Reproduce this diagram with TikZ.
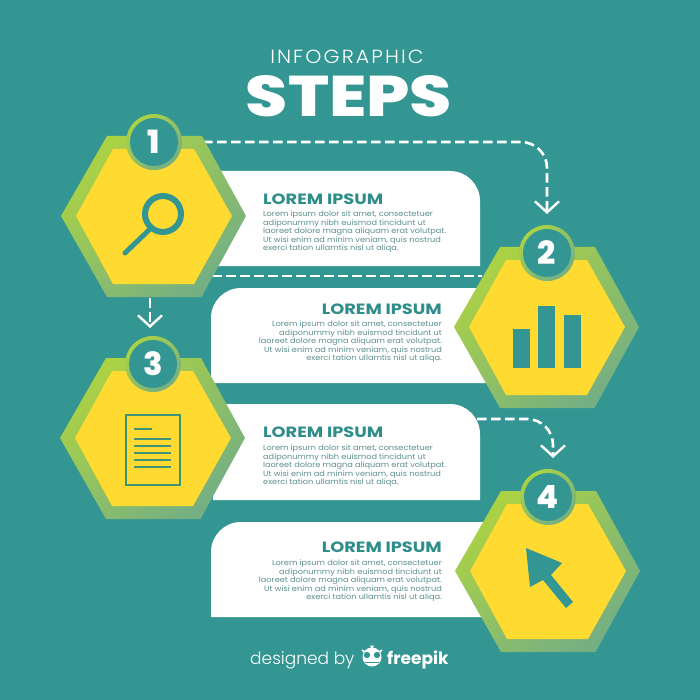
\documentclass[tikz,border=0pt]{standalone}
\usepackage{fontspec}
\setmainfont{Poppins}
\newfontfamily\bodyfont[FakeStretch=1.09]{Poppins}
\newfontfamily\heavyfont{Poppins ExtraBold}
\newfontfamily\titlefont[LetterSpace=11,FakeStretch=1.08]{Poppins Light}
\newfontfamily\lightfont{Poppins Light}
\usetikzlibrary{arrows.meta,shapes.geometric}
\definecolor{bgteal}{HTML}{349693}
\definecolor{headteal}{HTML}{2F8D8A}
\definecolor{bodygrey}{HTML}{5C8F8E}
\definecolor{hexyellow}{HTML}{FFDA30}
\definecolor{greenA}{HTML}{ACD244}
\definecolor{greenB}{HTML}{74AF84}
\definecolor{docgreen}{HTML}{3F9478}
\tikzset{
  card/.style={fill=white,draw=none},
  flow/.style={draw=white,line width=2.6pt,dash pattern=on 9.5pt off 4.5pt,rounded corners=26pt},
  flowtip/.style={-{Straight Barb[length=11pt,width=24pt,line width=2.4pt]}},
  hexrim/.style={top color=greenA,bottom color=greenB,middle color=greenB!50!greenA,shading angle=40},
  numdisc/.style={circle,fill=bgteal,minimum size=48pt,inner sep=0pt,text=white,font=\heavyfont\fontsize{32}{32}\selectfont},
  ringdisc/.style={top color=greenA,bottom color=greenB,shading angle=40},
  head/.style={text=headteal,inner sep=0pt},
  bodyl/.style={text=bodygrey,font=\bodyfont\fontsize{7.5}{8.5}\selectfont,inner sep=0pt,align=left},
  bodyr/.style={text=bodygrey,font=\bodyfont\fontsize{7.5}{8.5}\selectfont,inner sep=0pt,align=right},
  icon/.style={draw=bgteal,line width=6pt},
}
\newcommand{\hexat}[3]{%
  \coordinate (#1) at (#2,#3);
  \begin{scope}[shift={(#2,#3)}]
    \path[hexrim] (-92.5,0) -- (-46.5,-80) -- (48.5,-80) -- (92.5,0) -- (48,81) -- (-46.5,81) -- cycle;
    \fill[hexyellow] (-77.5,0) -- (-40.5,-67) -- (40.5,-67) -- (78.5,0) -- (40.5,68) -- (-40.5,68) -- cycle;
  \end{scope}}
\newcommand{\numat}[4]{%
  \path[ringdisc] (#2,#3) circle[radius=28pt];
  \node[numdisc] (#1) at (#2,#3) {#4};}
\newcommand{\loremtxt}{Lorem ipsum dolor sit amet, consectetuer\\adiponummy nibh euismod tincidunt ut\\laoreet dolore magna aliquam erat volutpat.\\Ut wisi enim ad minim veniam, quis nostrud\\exerci tation ullamtis nisl ut aliqa.}
\newcommand{\headtxt}{\resizebox{120pt}{10.6pt}{\bfseries LOREM IPSUM}}
\begin{document}
\begin{tikzpicture}[x=1pt,y=-1pt]
\useasboundingbox (0,0) rectangle (700,700);
\fill[bgteal] (0,0) rectangle (700,700);

% cards
\fill[card] (200,171) -- (450,171) arc[start angle=-90,end angle=0,radius=30] -- (480,266) -- (200,266) -- cycle;
\fill[card] (520,288) -- (241,288) arc[start angle=-90,end angle=-180,radius=30] -- (211,383) -- (520,383) -- cycle;
\fill[card] (213,404) -- (450,404) arc[start angle=-90,end angle=0,radius=30] -- (480,500) -- (213,500) -- cycle;
\fill[card] (520,522) -- (241,522) arc[start angle=-90,end angle=-180,radius=30] -- (211,617) -- (520,617) -- cycle;

% connector anchors
\coordinate (s12) at (203,142);
\coordinate (k12) at (547,142);
\coordinate (t2) at (547,214);
\coordinate (sm) at (212,276);
\coordinate (em) at (482,276);
\coordinate (s13) at (150,298);
\coordinate (t3) at (150,328);
\coordinate (s34) at (477,419);
\coordinate (k34) at (553,419);
\coordinate (t4) at (553,458);

% connectors
\draw[flow,flowtip] (s12) -- (k12) -- (t2);
\draw[flow] (sm) -- (em);
\draw[flow,flowtip] (s13) -- (t3);
\draw[flow,flowtip] (s34) -- (k34) -- (t4);

% hexagons
\hexat{hex1}{153.5}{216}
\hexat{hex2}{546.5}{327}
\hexat{hex3}{152.5}{438}
\hexat{hex4}{547.5}{571}

% number discs
\numat{n1}{154}{142}{1}
\numat{n2}{547}{253}{2}
\numat{n3}{153}{364}{3}
\numat{n4}{548}{497}{4}

% magnifier
\draw[icon] (163,214) circle[radius=18pt];
\draw[bgteal,line width=5pt,line cap=round] (149,230) -- (125,253);

% bars
\fill[bgteal] (513,329) rectangle (530,368);
\fill[bgteal] (538,306) rectangle (555,368);
\fill[bgteal] (564,315) rectangle (581,368);

% document
\draw[docgreen,line width=2pt] (125.5,414.5) rectangle (179.5,484.5);
\draw[docgreen,line width=2pt] (134,429) -- (152,429);
\foreach \ly in {439,446,453,460,467}{\draw[docgreen,line width=2pt] (134,\ly) -- (171,\ly);}

% cursor
\fill[bgteal] (526,548) -- (562,563) -- (551,575) -- (573,602) -- (566,608) -- (543,580) -- (530,587) -- cycle;

% texts
\node[head,anchor=west] (h1) at (263,199) {\headtxt};
\node[bodyl,anchor=north west] (b1) at (263,211) {\loremtxt};
\node[head,anchor=east] (h2) at (442,309) {\headtxt};
\node[bodyr,anchor=north east] (b2) at (442,321) {\loremtxt};
\node[head,anchor=west] (h3) at (263,432) {\headtxt};
\node[bodyl,anchor=north west] (b3) at (263,445) {\loremtxt};
\node[head,anchor=east] (h4) at (442,547) {\headtxt};
\node[bodyr,anchor=north east] (b4) at (442,560) {\loremtxt};

% title
\node[text=white,inner sep=0pt,font=\titlefont\fontsize{19}{19}\selectfont] (t1) at (347,57) {INFOGRAPHIC};
\node[text=white,inner sep=0pt] (t0) at (349,96) {\resizebox{206pt}{41pt}{\heavyfont STEPS}};

% footer
\node[text=white,inner sep=0pt,anchor=west,font=\lightfont\fontsize{17}{17}\selectfont] (f1) at (250,660) {designed by};
\node[text=white,inner sep=0pt,anchor=west,font=\bfseries\fontsize{17}{17}\selectfont] (f2) at (387,660) {freepik};
\fill[white] (372,657) ellipse[x radius=9.5,y radius=9.5];
\fill[white] (372,650) -- (370,645.5) -- (374,645.5) -- cycle;
\draw[white,line width=1.6pt] (362,650) -- (366,653);
\draw[white,line width=1.6pt] (382,650) -- (378,653);
\fill[bgteal] (367,655) circle[radius=3.2];
\fill[bgteal] (377,655) circle[radius=3.2];
\fill[bgteal] (365,661.5) rectangle (379,662.8);
\end{tikzpicture}
\end{document}
